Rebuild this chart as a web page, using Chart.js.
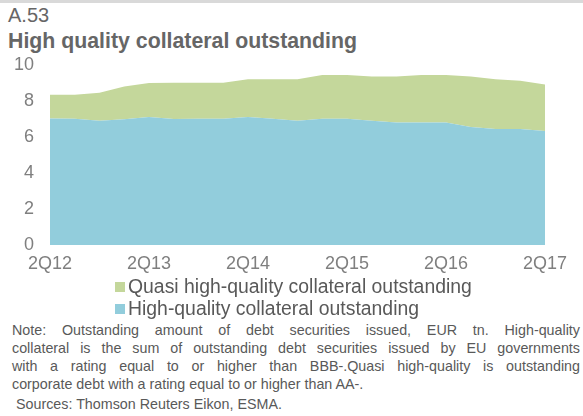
<!DOCTYPE html>
<html><head><meta charset="utf-8">
<script src="https://cdn.jsdelivr.net/npm/chart.js@4"></script>
<style>
html,body{margin:0;padding:0;background:#fff;width:583px;height:416px;overflow:hidden;font-family:"Liberation Sans",Arial,sans-serif;}
#topline{position:absolute;left:0;top:0;width:583px;height:3px;background:#d9d9d9;}
#num{position:absolute;left:8px;top:4px;font-size:20px;color:#666;}
#title{position:absolute;left:8px;top:29px;font-size:21.3px;font-weight:bold;color:#666;}
#wrap{position:absolute;left:0;top:38px;width:583px;height:239px;}
#legend{position:absolute;left:115px;top:275px;font-size:19.4px;color:#595959;}
.li{height:22px;line-height:22px;white-space:nowrap;}
.sw{display:inline-block;width:10px;height:10px;margin-right:3px;vertical-align:1px;}
#note{position:absolute;left:12px;top:321px;width:568px;font-size:14.3px;color:#595959;line-height:18px;}
</style></head><body>
<div id="topline"></div>
<div id="num">A.53</div>
<div id="title">High quality collateral outstanding</div>
<div id="wrap"><canvas id="c"></canvas></div>
<div id="legend"></div>
<div id="note">
<div style="text-align:justify;text-align-last:justify">Note: Outstanding amount of debt securities issued, EUR tn. High-quality</div>
<div style="text-align:justify;text-align-last:justify">collateral is the sum of outstanding debt securities issued by EU governments</div>
<div style="text-align:justify;text-align-last:justify">with a rating equal to or higher than BBB-.Quasi high-quality is outstanding</div>
<div>corporate debt with a rating equal to or higher than AA-.</div>
<div style="margin-top:2px;padding-left:4px">Sources: Thomson Reuters Eikon, ESMA.</div>
</div>
<script>
const categories = ["2Q12","3Q12","4Q12","1Q13","2Q13","3Q13","4Q13","1Q14","2Q14","3Q14","4Q14","1Q15","2Q15","3Q15","4Q15","1Q16","2Q16","3Q16","4Q16","1Q17","2Q17"];
const tickLabels = ["2Q12","2Q13","2Q14","2Q15","2Q16","2Q17"];
const highQuality = [7.02,7.00,6.89,6.98,7.11,6.99,7.00,7.00,7.11,7.00,6.89,7.00,7.00,6.89,6.80,6.80,6.80,6.55,6.44,6.44,6.33];
const quasiHighQuality = [1.32,1.34,1.56,1.81,1.88,2.01,2.00,2.00,2.09,2.20,2.31,2.44,2.44,2.46,2.55,2.64,2.64,2.80,2.76,2.68,2.57];
const names = ["High-quality collateral outstanding","Quasi high-quality collateral outstanding"];
const colors = ["#92CDDC","#C4D79B"];

const leg = document.getElementById('legend');
[1,0].forEach(i=>{
  const d=document.createElement('div');d.className='li';
  const s=document.createElement('span');s.className='sw';s.style.background=colors[i];
  d.appendChild(s);d.appendChild(document.createTextNode(names[i]));leg.appendChild(d);
});

new Chart(document.getElementById('c'),{
  type:'line',
  data:{labels:categories,datasets:[
    {label:names[0],data:highQuality,backgroundColor:colors[0],borderWidth:0,pointRadius:0,fill:'origin',tension:0},
    {label:names[1],data:quasiHighQuality,backgroundColor:colors[1],borderWidth:0,pointRadius:0,fill:'-1',tension:0}
  ]},
  options:{
    responsive:true,maintainAspectRatio:false,animation:false,
    layout:{padding:{left:10,right:38,top:0,bottom:0}},
    plugins:{legend:{display:false},tooltip:{enabled:false}},
    scales:{
      x:{offset:false,grid:{display:false,drawTicks:false},border:{display:false},
        afterFit:function(s){s.height=32;},
        ticks:{autoSkip:false,maxRotation:0,color:'#7f7f7f',font:{family:'Liberation Sans',size:18},padding:8,
          callback:function(v,i){const l=categories[i];return tickLabels.includes(l)?l:'';}}},
      y:{stacked:true,min:0,max:10,grid:{display:false,drawTicks:false},border:{display:false},
        afterFit:function(s){s.width=40;},
        ticks:{stepSize:2,color:'#7f7f7f',font:{family:'Liberation Sans',size:18},padding:16}}
    }
  }
});
</script>
</body></html>
